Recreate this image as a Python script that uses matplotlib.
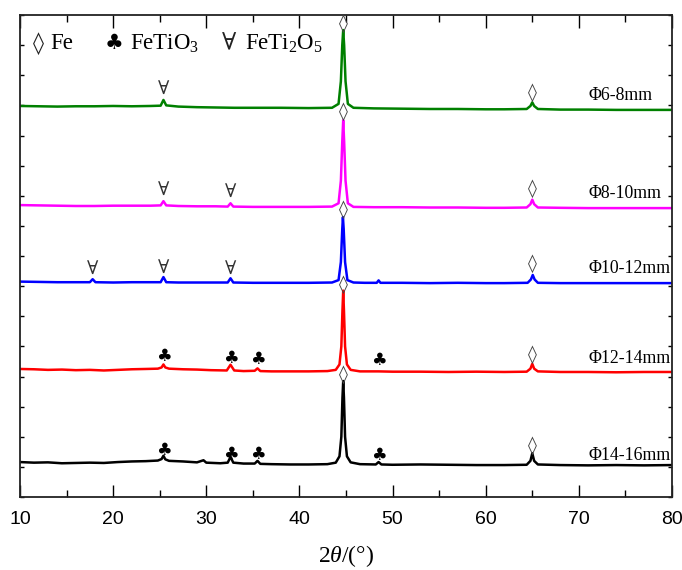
import matplotlib
matplotlib.use("Agg")
import matplotlib.pyplot as plt
from matplotlib.ticker import MultipleLocator

plt.rcParams['mathtext.fontset'] = 'custom'
plt.rcParams['mathtext.rm'] = 'Liberation Serif'
plt.rcParams['mathtext.it'] = 'Liberation Serif:italic'

# ---------------- data ----------------
x_black = [10, 11.5, 13, 14.5, 16, 17.5, 19, 20.5, 22, 23.5, 24.8, 25.2, 25.4, 25.6, 26, 27.5, 29, 29.7, 30,
           31.5, 32.3, 32.6, 32.9, 34, 35.2, 35.5, 35.8, 37, 39, 41, 43, 43.9, 44.3, 44.5, 44.62, 44.7, 44.78,
           44.9, 45.1, 45.5, 46.5, 48.2, 48.5, 48.8, 50, 53, 56, 59, 62, 64.4, 64.8, 65.0, 65.2, 65.6, 68, 71,
           74, 77, 80]
y_black = [1.16, 1.14, 1.15, 1.12, 1.13, 1.14, 1.13, 1.16, 1.18, 1.19, 1.21, 1.26, 1.37, 1.25, 1.20, 1.18,
           1.15, 1.22, 1.14, 1.12, 1.14, 1.33, 1.14, 1.11, 1.11, 1.20, 1.10, 1.09, 1.08, 1.08, 1.09, 1.14,
           1.35, 2.0, 3.3, 3.85, 3.3, 2.0, 1.35, 1.15, 1.09, 1.08, 1.16, 1.08, 1.07, 1.08, 1.07, 1.06, 1.06,
           1.07, 1.20, 1.45, 1.20, 1.08, 1.06, 1.05, 1.06, 1.05, 1.06]

x_red = [10, 11.5, 13, 14.5, 16, 17.5, 19, 20.5, 22, 23.5, 24.8, 25.2, 25.4, 25.6, 26, 27.5, 29, 30.5, 32.2,
         32.6, 33.0, 34, 35.2, 35.5, 35.8, 37, 39, 41, 43, 43.9, 44.3, 44.5, 44.62, 44.7, 44.78, 44.9, 45.1,
         45.5, 46.5, 48.5, 50, 53, 56, 59, 62, 64.4, 64.8, 65.0, 65.2, 65.6, 68, 71, 74, 77, 80]
y_red = [4.25, 4.24, 4.22, 4.23, 4.21, 4.22, 4.20, 4.22, 4.24, 4.25, 4.26, 4.30, 4.40, 4.30, 4.26, 4.24,
         4.23, 4.21, 4.20, 4.39, 4.20, 4.18, 4.19, 4.27, 4.18, 4.17, 4.17, 4.17, 4.18, 4.22, 4.40, 5.0, 6.2,
         6.85, 6.2, 5.0, 4.40, 4.22, 4.17, 4.17, 4.16, 4.16, 4.15, 4.16, 4.15, 4.16, 4.26, 4.42, 4.26, 4.17,
         4.15, 4.15, 4.14, 4.15, 4.15]

x_blue = [10, 12, 14, 16, 17.5, 17.8, 18.1, 20, 22, 24, 25.1, 25.4, 25.7, 27, 29, 31, 32.3, 32.6, 32.9, 35,
          38, 41, 43.5, 44.2, 44.45, 44.6, 44.67, 44.75, 44.9, 45.15, 45.8, 47, 48.3, 48.5, 48.7, 51, 54, 57,
          60, 62, 64.5, 64.85, 65.05, 65.25, 65.6, 68, 71, 74, 77, 80]
y_blue = [7.15, 7.14, 7.13, 7.13, 7.13, 7.23, 7.13, 7.12, 7.13, 7.13, 7.13, 7.30, 7.13, 7.12, 7.12, 7.12,
          7.12, 7.26, 7.12, 7.11, 7.11, 7.11, 7.12, 7.20, 7.8, 8.9, 9.29, 8.9, 7.8, 7.20, 7.12, 7.11, 7.11,
          7.19, 7.11, 7.11, 7.10, 7.11, 7.10, 7.10, 7.11, 7.22, 7.37, 7.22, 7.11, 7.10, 7.10, 7.10, 7.10, 7.10]

x_mag = [10, 12, 14, 16, 18, 20, 22, 24, 25.1, 25.4, 25.7, 27, 29, 31, 32.3, 32.6, 32.9, 35, 38, 41, 43.5,
         44.2, 44.45, 44.6, 44.7, 44.8, 44.95, 45.2, 45.8, 48, 51, 54, 57, 60, 62, 64.4, 64.8, 65.0, 65.2,
         65.6, 68, 71, 74, 77, 80]
y_mag = [9.69, 9.68, 9.67, 9.66, 9.66, 9.67, 9.67, 9.67, 9.68, 9.82, 9.68, 9.66, 9.65, 9.65, 9.64, 9.75,
         9.64, 9.63, 9.63, 9.63, 9.64, 9.75, 10.5, 11.8, 12.51, 11.8, 10.5, 9.75, 9.63, 9.62, 9.62, 9.61,
         9.61, 9.60, 9.60, 9.61, 9.72, 9.87, 9.72, 9.61, 9.60, 9.59, 9.59, 9.59, 9.59]

x_green = [10, 12, 14, 16, 18, 20, 22, 24, 25.1, 25.4, 25.7, 27, 29, 31, 33, 35, 38, 41, 43.5, 44.2, 44.45,
           44.6, 44.7, 44.8, 44.95, 45.2, 45.8, 48, 51, 54, 57, 60, 62, 64.4, 64.8, 65.0, 65.2, 65.6, 68,
           71, 74, 77, 80]
y_green = [12.98, 12.97, 12.96, 12.97, 12.97, 12.98, 12.97, 12.98, 12.99, 13.18, 13.00, 12.96, 12.94, 12.93,
           12.92, 12.92, 12.92, 12.91, 12.92, 13.05, 13.8, 15.0, 15.5, 15.0, 13.8, 13.05, 12.92, 12.90,
           12.89, 12.88, 12.88, 12.87, 12.87, 12.88, 12.98, 13.10, 12.98, 12.88, 12.86, 12.86, 12.85,
           12.85, 12.85]

sample_labels = ['Φ14-16mm', 'Φ12-14mm', 'Φ10-12mm', 'Φ8-10mm', 'Φ6-8mm']
colors = ['black', '#ff0000', '#0000ff', '#ff00ff', '#008000']

# phase markers: (symbol, 2theta, y)
marks_black = [('♣', 25.4, 1.55), ('♣', 32.6, 1.41), ('♣', 35.5, 1.41), ('♣', 48.5, 1.38),
               ('◊', 44.7, 4.07), ('◊', 65.0, 1.71)]
marks_red = [('♣', 25.4, 4.67), ('♣', 32.6, 4.60), ('♣', 35.5, 4.57), ('♣', 48.5, 4.53),
             ('◊', 44.7, 7.06), ('◊', 65.0, 4.73)]
marks_blue = [('∀', 17.8, 7.56), ('∀', 25.4, 7.62), ('∀', 32.6, 7.56), ('◊', 44.7, 9.55), ('◊', 65.0, 7.75)]
marks_mag = [('∀', 25.4, 10.21), ('∀', 32.6, 10.14), ('◊', 44.7, 12.80), ('◊', 65.0, 10.24)]
marks_green = [('∀', 25.4, 13.56), ('◊', 44.7, 15.72), ('◊', 65.0, 13.43)]
label_y = [1.39, 4.61, 7.60, 10.09, 13.34]

# ---------------- plot ----------------
fig = plt.figure(figsize=(6.82, 5.70), dpi=100)
ax = fig.add_axes([20/682, 73/570, 652/682, 482/570])

series = [(x_black, y_black), (x_red, y_red), (x_blue, y_blue), (x_mag, y_mag), (x_green, y_green)]
for (xs, ys), c in zip(series, colors):
    ax.plot(xs, ys, color=c, lw=1.8)

sym_font = ['DejaVu Serif']
for marks in [marks_black, marks_red, marks_blue, marks_mag, marks_green]:
    for s, xx, yy in marks:
        if s == '♣':
            ax.text(xx, yy, s, ha='center', va='center', fontsize=12.5, family=sym_font, color='black')
        elif s == '∀':
            ax.text(xx, yy, s, ha='center', va='center', fontsize=13.5, family=sym_font, color='#333333')
        else:
            ax.text(xx, yy, s, ha='center', va='center', fontsize=13, family=sym_font, color='#444444')

for lab, yy in zip(sample_labels, label_y):
    ax.text(71.0, yy, lab, ha='left', va='center', fontsize=12.8, family=['Liberation Serif', 'DejaVu Serif'])

# legend-like header
hy = 15.05
ax.text(11.4, hy, '◊', ha='left', va='center', fontsize=16, family=sym_font, color='#222222')
ax.text(13.2, hy, 'Fe', ha='left', va='center', fontsize=16.5, family='Liberation Serif')
ax.text(19.1, hy, '♣', ha='left', va='center', fontsize=15, family=sym_font)
ax.text(21.8, hy, r'FeTiO$_3$', ha='left', va='center', fontsize=16.5, family='Liberation Serif')
ax.text(31.7, hy, '∀', ha='left', va='center', fontsize=17, family=sym_font, color='#222222')
ax.text(34.2, hy, r'FeTi$_2$O$_5$', ha='left', va='center', fontsize=16.5, family='Liberation Serif')

ax.set_xlim(10, 80)
ax.set_ylim(0, 16)
ax.xaxis.set_major_locator(MultipleLocator(10))
ax.xaxis.set_minor_locator(MultipleLocator(5))
ax.yaxis.set_major_locator(MultipleLocator(1))
ax.tick_params(axis='x', which='major', direction='in', length=9, width=1, top=True,
               labelsize=14, pad=10)
ax.tick_params(axis='x', which='minor', direction='in', length=5, width=1, top=True)
ax.tick_params(axis='y', which='major', direction='in', length=3, width=1, right=True,
               labelleft=False)
for lbl in ax.get_xticklabels():
    lbl.set_family('Liberation Sans')
for sp in ax.spines.values():
    sp.set_linewidth(1.3)
    sp.set_color('#222222')

ax.set_xlabel(r'$2\mathit{\theta}$/(°)', fontsize=17, family='Liberation Serif', labelpad=11)

fig.savefig('out.png', dpi=100)
